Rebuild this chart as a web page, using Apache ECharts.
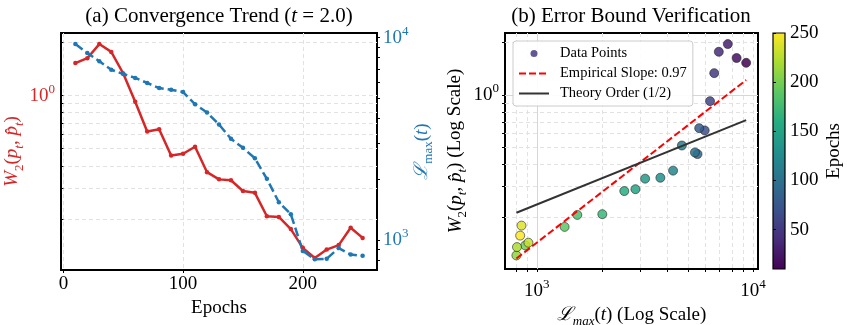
<!DOCTYPE html>
<html>
<head>
<meta charset="utf-8">
<script src="https://cdn.jsdelivr.net/npm/echarts@6.0.0/dist/echarts.min.js"></script>
<style>
  html, body { margin: 0; padding: 0; background: #fff; }
  #chart { width: 847px; height: 325px; }
</style>
</head>
<body>
<div id="chart"></div>
<script>
// data
var epochs = [10, 20, 30, 40, 50, 60, 70, 80, 90, 100, 110, 120, 130,
              140, 150, 160, 170, 180, 190, 200, 210, 220, 230, 240, 250];
var w2Values = [1.53, 1.63, 1.96, 1.77, 1.335, 0.922, 0.626, 0.645, 0.458, 0.468,
                0.513, 0.368, 0.335, 0.331, 0.288, 0.281, 0.207, 0.205, 0.175, 0.137,
                0.120, 0.134, 0.142, 0.178, 0.156];
var lmaxValues = [9300, 8400, 7650, 6950, 6620, 6330, 5980, 5640, 5540, 5390,
                  4690, 4270, 3730, 3170, 2860, 2540, 2010, 1540, 1345, 885,
                  805, 810, 915, 850, 838];
// fitted lines, endpoints
var empiricalLine = [[805, 0.1152], [9300, 1.219]];
var theoryLine = [[805, 0.211], [9300, 0.718]];

var w2Ticks = [0.2, 0.3, 0.4, 0.5, 0.6, 0.7, 0.8, 0.9, 1, 2];
var w2Labels = [1];
var lmaxTicks = [800, 900, 1000, 2000, 3000, 4000, 5000, 6000, 7000, 8000, 9000, 10000];
var lmaxLabels = [1000, 10000];
var epochTicks = [0, 100, 200];
var colorbarTicks = [50, 100, 150, 200, 250];
var viridis = ['#440154', '#472c7a', '#3b518b', '#2c718e', '#21908d',
               '#27ad81', '#5cc863', '#aadc32', '#fde725'];

var SERIF = 'Liberation Serif, Times New Roman, DejaVu Serif, serif';
var RED = '#d62728', BLUE = '#1f77b4';

function powLabel(color, size, vals, margin) {
  return {
    customValues: vals,
    margin: margin,
    formatter: function (v) { return '{b|10}{s|' + Math.round(Math.log10(v)) + '}'; },
    rich: {
      b: { fontFamily: SERIF, fontSize: size, color: color, lineHeight: 26 },
      s: { fontFamily: SERIF, fontSize: Math.round(size * 0.7), color: color, lineHeight: 14, verticalAlign: 'top' }
    }
  };
}

function mathRich(color, size) {
  var sub = Math.round(size * 0.7);
  return {
    n: { fontFamily: SERIF, fontSize: size, color: color, lineHeight: size + 8 },
    i: { fontFamily: SERIF, fontStyle: 'italic', fontSize: size, color: color, lineHeight: size + 8 },
    sub: { fontFamily: SERIF, fontSize: sub, color: color, lineHeight: sub + 2, verticalAlign: 'bottom' },
    isub: { fontFamily: SERIF, fontStyle: 'italic', fontSize: sub, color: color, lineHeight: sub + 2, verticalAlign: 'bottom' },
    L: { fontFamily: 'DejaVu Serif, serif', fontStyle: 'italic', fontSize: size, color: color, lineHeight: size + 8 }
  };
}

var w2Name = '{i|W}{sub|2}{n|(}{i|p}{isub|t}{n|, }{i|p\u0302}{isub|t}{n|)}';

var gridDash = { show: true, lineStyle: { color: '#e2e2e2', width: 1, type: [4, 3] } };
var tickStyle = function (vals) {
  return { show: true, inside: false, length: 3, customValues: vals, lineStyle: { color: '#000', width: 1 } };
};
var plainText = { fontFamily: SERIF, fontSize: 19, color: '#000' };

var scatterData = epochs.map(function (e, i) { return [lmaxValues[i], w2Values[i], e]; });

var chart = echarts.init(document.getElementById('chart'));
chart.setOption({
  animation: false,
  backgroundColor: '#fff',
  textStyle: { fontFamily: SERIF },
  graphic: [
    { type: 'text', x: 219, y: 16, style: {
        text: '{n|(a) Convergence Trend (}{i|t}{n| = 2.0)}',
        fontFamily: SERIF, fontSize: 21,
        align: 'center', verticalAlign: 'middle',
        rich: mathRich('#000', 21) } },
    { type: 'text', x: 631, y: 16, style: {
        text: '(b) Error Bound Verification',
        fontFamily: SERIF, fontSize: 21, fill: '#000',
        align: 'center', verticalAlign: 'middle' } }
  ],
  grid: [
    { left: 61, top: 33, width: 316, height: 237, outerBoundsMode: 'none', containLabel: false,
      show: true, borderColor: '#000', borderWidth: 2, backgroundColor: 'transparent' },
    { left: 505, top: 33, width: 253, height: 236, outerBoundsMode: 'none', containLabel: false,
      show: true, borderColor: '#000', borderWidth: 2, backgroundColor: 'transparent' },
    { left: 773, top: 33, width: 12, height: 236, outerBoundsMode: 'none', containLabel: false,
      show: true, borderColor: '#000', borderWidth: 1.2,
      backgroundColor: { type: 'linear', x: 0, y: 1, x2: 0, y2: 0,
        colorStops: viridis.map(function (c, i) { return { offset: i / (viridis.length - 1), color: c }; }) } }
  ],
  legend: {
    left: 513, top: 41, orient: 'vertical', z: 20,
    itemWidth: 30, itemHeight: 7, itemGap: 5,
    padding: [5, 6, 5, 5],
    backgroundColor: 'rgba(255,255,255,0.92)', borderColor: '#cccccc', borderWidth: 1, borderRadius: 3,
    textStyle: { fontFamily: SERIF, fontSize: 14.5, color: '#000', padding: [0, 0, 0, 6] },
    data: [
      { name: 'Data Points', icon: 'circle', itemStyle: { color: '#4a3a85', borderWidth: 0 } },
      { name: 'Empirical Slope: 0.97', itemStyle: { opacity: 0 } },
      { name: 'Theory Order (1/2)', itemStyle: { opacity: 0 } }
    ]
  },
  visualMap: {
    type: 'continuous', show: false, seriesIndex: 2, dimension: 2,
    min: 10, max: 250, inRange: { color: viridis }
  },
  xAxis: [
    { gridIndex: 0, type: 'value', min: -2, max: 262,
      axisLine: { show: false }, axisTick: tickStyle(epochTicks),
      axisLabel: { customValues: epochTicks, fontFamily: SERIF, fontSize: 19, color: '#000', margin: 5 },
      splitLine: gridDash,
      name: 'Epochs', nameLocation: 'middle', nameGap: 21, nameTextStyle: plainText },
    { gridIndex: 1, type: 'log', logBase: 10, min: 713, max: 10550,
      axisLine: { show: false }, axisTick: tickStyle(lmaxTicks),
      axisLabel: powLabel('#000', 19, lmaxLabels, 9),
      splitLine: gridDash,
      name: '{L|\u2112}{isub|max}{n|(}{i|t}{n|) (Log Scale)}', nameLocation: 'middle', nameGap: 24,
      nameTextStyle: { rich: mathRich('#000', 19) } },
    { gridIndex: 2, type: 'value', min: 0, max: 1, show: false }
  ],
  yAxis: [
    { gridIndex: 0, type: 'log', logBase: 10, min: 0.1026, max: 2.265, position: 'left',
      axisLine: { show: false }, axisTick: tickStyle(w2Ticks),
      axisLabel: powLabel(RED, 19, w2Labels, 6),
      splitLine: gridDash,
      name: w2Name, nameLocation: 'middle', nameGap: 31,
      nameTextStyle: { rich: mathRich(RED, 19) } },
    { gridIndex: 0, type: 'log', logBase: 10, min: 713, max: 10550, position: 'right',
      axisLine: { show: false }, axisTick: tickStyle(lmaxTicks),
      axisLabel: powLabel(BLUE, 19, lmaxLabels, 6),
      splitLine: { show: false },
      name: '{L|\u2112}{sub|max}{n|(}{i|t}{n|)}', nameLocation: 'middle', nameGap: 31,
      nameTextStyle: { rich: mathRich(BLUE, 19) } },
    { gridIndex: 1, type: 'log', logBase: 10, min: 0.1003, max: 2.269, position: 'left',
      axisLine: { show: false }, axisTick: tickStyle(w2Ticks),
      axisLabel: powLabel('#000', 19, w2Labels, 6),
      splitLine: gridDash,
      name: w2Name + '{n| (Log Scale)}', nameLocation: 'middle', nameGap: 36,
      nameTextStyle: { rich: mathRich('#000', 19) } },
    { gridIndex: 2, type: 'value', min: 10, max: 250, position: 'right',
      axisLine: { show: false }, axisTick: tickStyle(colorbarTicks),
      axisLabel: { customValues: colorbarTicks, fontFamily: SERIF, fontSize: 19, color: '#000', margin: 5 },
      splitLine: { show: false },
      name: 'Epochs', nameLocation: 'middle', nameGap: 40, nameTextStyle: plainText }
  ],
  series: [
    { name: 'W2', type: 'line', xAxisIndex: 0, yAxisIndex: 0, z: 3,
      data: epochs.map(function (e, i) { return [e, w2Values[i]]; }),
      symbol: 'circle', symbolSize: 4.5, showSymbol: true,
      lineStyle: { color: RED, width: 2.5 }, itemStyle: { color: RED } },
    { name: 'Lmax', type: 'line', xAxisIndex: 0, yAxisIndex: 1, z: 3,
      data: epochs.map(function (e, i) { return [e, lmaxValues[i]]; }),
      symbol: 'circle', symbolSize: 4.5, showSymbol: true,
      lineStyle: { color: BLUE, width: 2.5, type: [9, 4] }, itemStyle: { color: BLUE } },
    { name: 'Data Points', type: 'scatter', xAxisIndex: 1, yAxisIndex: 2, z: 2,
      data: scatterData, symbolSize: 9,
      itemStyle: { color: '#45307e', borderColor: '#222', borderWidth: 0.7, opacity: 0.85 },
      markLine: { silent: true, symbol: 'none', label: { show: false }, z: 1,
        lineStyle: { color: '#d6d6d6', type: 'solid', width: 1 },
        data: [{ yAxis: 1 }, { xAxis: 1000 }] } },
    { name: 'Empirical Slope: 0.97', type: 'line', xAxisIndex: 1, yAxisIndex: 2, z: 4,
      data: empiricalLine, symbol: 'none',
      lineStyle: { color: '#ff0000', width: 2, type: [7, 3] }, itemStyle: { color: '#ff0000' } },
    { name: 'Theory Order (1/2)', type: 'line', xAxisIndex: 1, yAxisIndex: 2, z: 4,
      data: theoryLine, symbol: 'none',
      lineStyle: { color: '#333333', width: 2 }, itemStyle: { color: '#333333' } }
  ]
});
</script>
</body>
</html>
